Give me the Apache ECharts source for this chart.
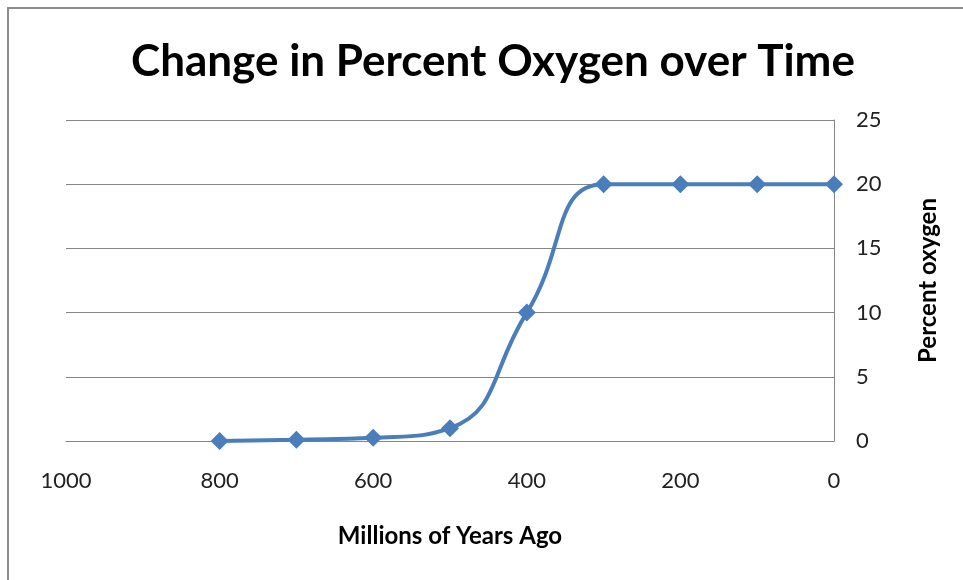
<!DOCTYPE html>
<html>
<head>
<meta charset="utf-8">
<script src="https://cdn.jsdelivr.net/npm/echarts@6/dist/echarts.min.js"></script>
<style>
  html, body { margin: 0; padding: 0; background: #fff; }
  #chart { width: 963px; height: 580px; }
</style>
</head>
<body>
<div id="chart"></div>
<script>
// Time before present (millions of years) and atmospheric oxygen (%)
const yearsAgo = [800, 700, 600, 500, 400, 300, 200, 100, 0];
const percentOxygen = [0, 0.1, 0.25, 1, 10, 20, 20, 20, 20];

const titleText = 'Change in Percent Oxygen over Time';
const xAxisName = 'Millions of Years Ago';
const yAxisName = 'Percent oxygen';

const fontFamily = 'Lato, "Open Sans", sans-serif';

const chart = echarts.init(document.getElementById('chart'), null, { renderer: 'canvas' });

chart.setOption({
  animation: false,
  backgroundColor: '#ffffff',
  title: {
    text: titleText,
    left: 488,
    top: 35,
    textAlign: 'center',
    textStyle: { fontFamily, fontWeight: 'bold', fontSize: 44, color: '#000' }
  },
  graphic: [{
    type: 'polyline',
    shape: { points: [[8, 600], [8, 8], [980, 8]] },
    style: { stroke: '#8c8c8c', lineWidth: 2, fill: null }
  }],
  grid: { left: 66, right: 129, top: 120, bottom: 139, containLabel: false },
  xAxis: {
    type: 'value',
    inverse: true,
    min: 0,
    max: 1000,
    interval: 200,
    name: xAxisName,
    nameLocation: 'middle',
    nameGap: 83,
    nameTextStyle: { fontFamily, fontWeight: 'bold', fontSize: 24, color: '#000' },
    axisLine: { show: true, onZero: true, lineStyle: { color: '#868686', width: 1 } },
    axisTick: { show: false },
    axisLabel: { margin: 29, fontFamily, fontSize: 22, color: '#222', formatter: v => String(v) },
    splitLine: { show: false }
  },
  yAxis: {
    type: 'value',
    position: 'right',
    min: 0,
    max: 25,
    interval: 5,
    name: yAxisName,
    nameLocation: 'middle',
    nameRotate: 90,
    nameGap: 82,
    nameTextStyle: { fontFamily, fontWeight: 'bold', fontSize: 24, color: '#000' },
    axisLine: { show: true, lineStyle: { color: '#868686', width: 1 } },
    axisTick: { show: false },
    axisLabel: { margin: 22, fontFamily, fontSize: 22, color: '#222' },
    splitLine: { show: true, lineStyle: { color: '#868686', width: 1 } }
  },
  series: [{
    type: 'line',
    data: yearsAgo.map((x, i) => [x, percentOxygen[i]]),
    smooth: 0.5,
    symbol: 'diamond',
    symbolSize: 18,
    lineStyle: { color: '#4a7ebb', width: 4 },
    itemStyle: { color: '#4a7ebb' },
    z: 3
  }]
});
</script>
</body>
</html>
